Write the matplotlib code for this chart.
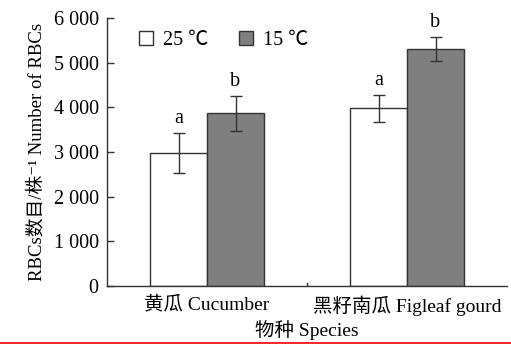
import matplotlib
matplotlib.use("Agg")
import matplotlib.pyplot as plt
import numpy as np
from matplotlib.lines import Line2D

# === Data ===
species = ["黄瓜 Cucumber", "黑籽南瓜 Figleaf gourd"]
temps = ["25 ℃", "15 ℃"]
rbc_25 = [2980, 3980]
rbc_15 = [3870, 5300]
err_25 = [450, 300]
err_15 = [390, 270]
sig_25 = ["a", "a"]
sig_15 = ["b", "b"]
yticks = [0, 1000, 2000, 3000, 4000, 5000, 6000]

plt.rcParams["font.family"] = ["Liberation Serif", "Noto Sans CJK SC", "DejaVu Sans"]

fig = plt.figure(figsize=(5.11, 3.45), dpi=100)
ax = fig.add_axes([107 / 511, 1 - 286 / 345, 400 / 511, 268 / 345])

x = np.array([0.5, 1.5])
width = 0.285
ec = "#333333"
ekw = dict(ecolor=ec, elinewidth=1.0, capsize=4.3, capthick=1.0)

ax.bar(x - width / 2, rbc_25, width, color="white", edgecolor=ec, linewidth=1.0,
       yerr=err_25, error_kw=ekw, label=temps[0])
ax.bar(x + width / 2, rbc_15, width, color="#7f7f7f", edgecolor=ec, linewidth=1.0,
       yerr=err_15, error_kw=ekw, label=temps[1])

# significance letters
for i in range(len(x)):
    ax.text(x[i] - width / 2, rbc_25[i] + err_25[i] + 110, sig_25[i],
            ha="center", va="bottom", fontsize=14.5)
    ax.text(x[i] + width / 2, rbc_15[i] + err_15[i] + 110, sig_15[i],
            ha="center", va="bottom", fontsize=14.5)

# === Axes styling ===
ax.set_xlim(0, 2)
ax.set_ylim(0, 6000)
ax.set_yticks(yticks)
ax.set_yticklabels([f"{v:,}".replace(",", " ") for v in yticks], fontsize=14.5)
ax.set_xticks(x)
ax.set_xticklabels(species, fontsize=14)
ax.tick_params(axis="x", length=0, pad=7)
ax.tick_params(axis="y", direction="in", length=5, width=1.0, color=ec, pad=6)
ax.axvline(1.0, ymin=0, ymax=0.012, color=ec, linewidth=1.0)
for side in ["top", "right"]:
    ax.spines[side].set_visible(False)
for side in ["left", "bottom"]:
    ax.spines[side].set_color(ec)
    ax.spines[side].set_linewidth(1.0)

ax.set_xlabel("物种 Species", fontsize=14, labelpad=3)
ax.set_ylabel("RBCs数目/株⁻¹ Number of RBCs", fontsize=13.5, labelpad=6)

ax.legend(loc="upper left", ncol=2, frameon=False, fontsize=14.5,
          handlelength=0.7, handleheight=0.7, handletextpad=0.5,
          columnspacing=1.5, bbox_to_anchor=(0.035, 1.02))

# red rule at the bottom of the page
fig.add_artist(Line2D([0, 1], [1 - 342.5 / 345] * 2, color="red", linewidth=1.2,
                      transform=fig.transFigure))

plt.savefig("out.png", dpi=100)
